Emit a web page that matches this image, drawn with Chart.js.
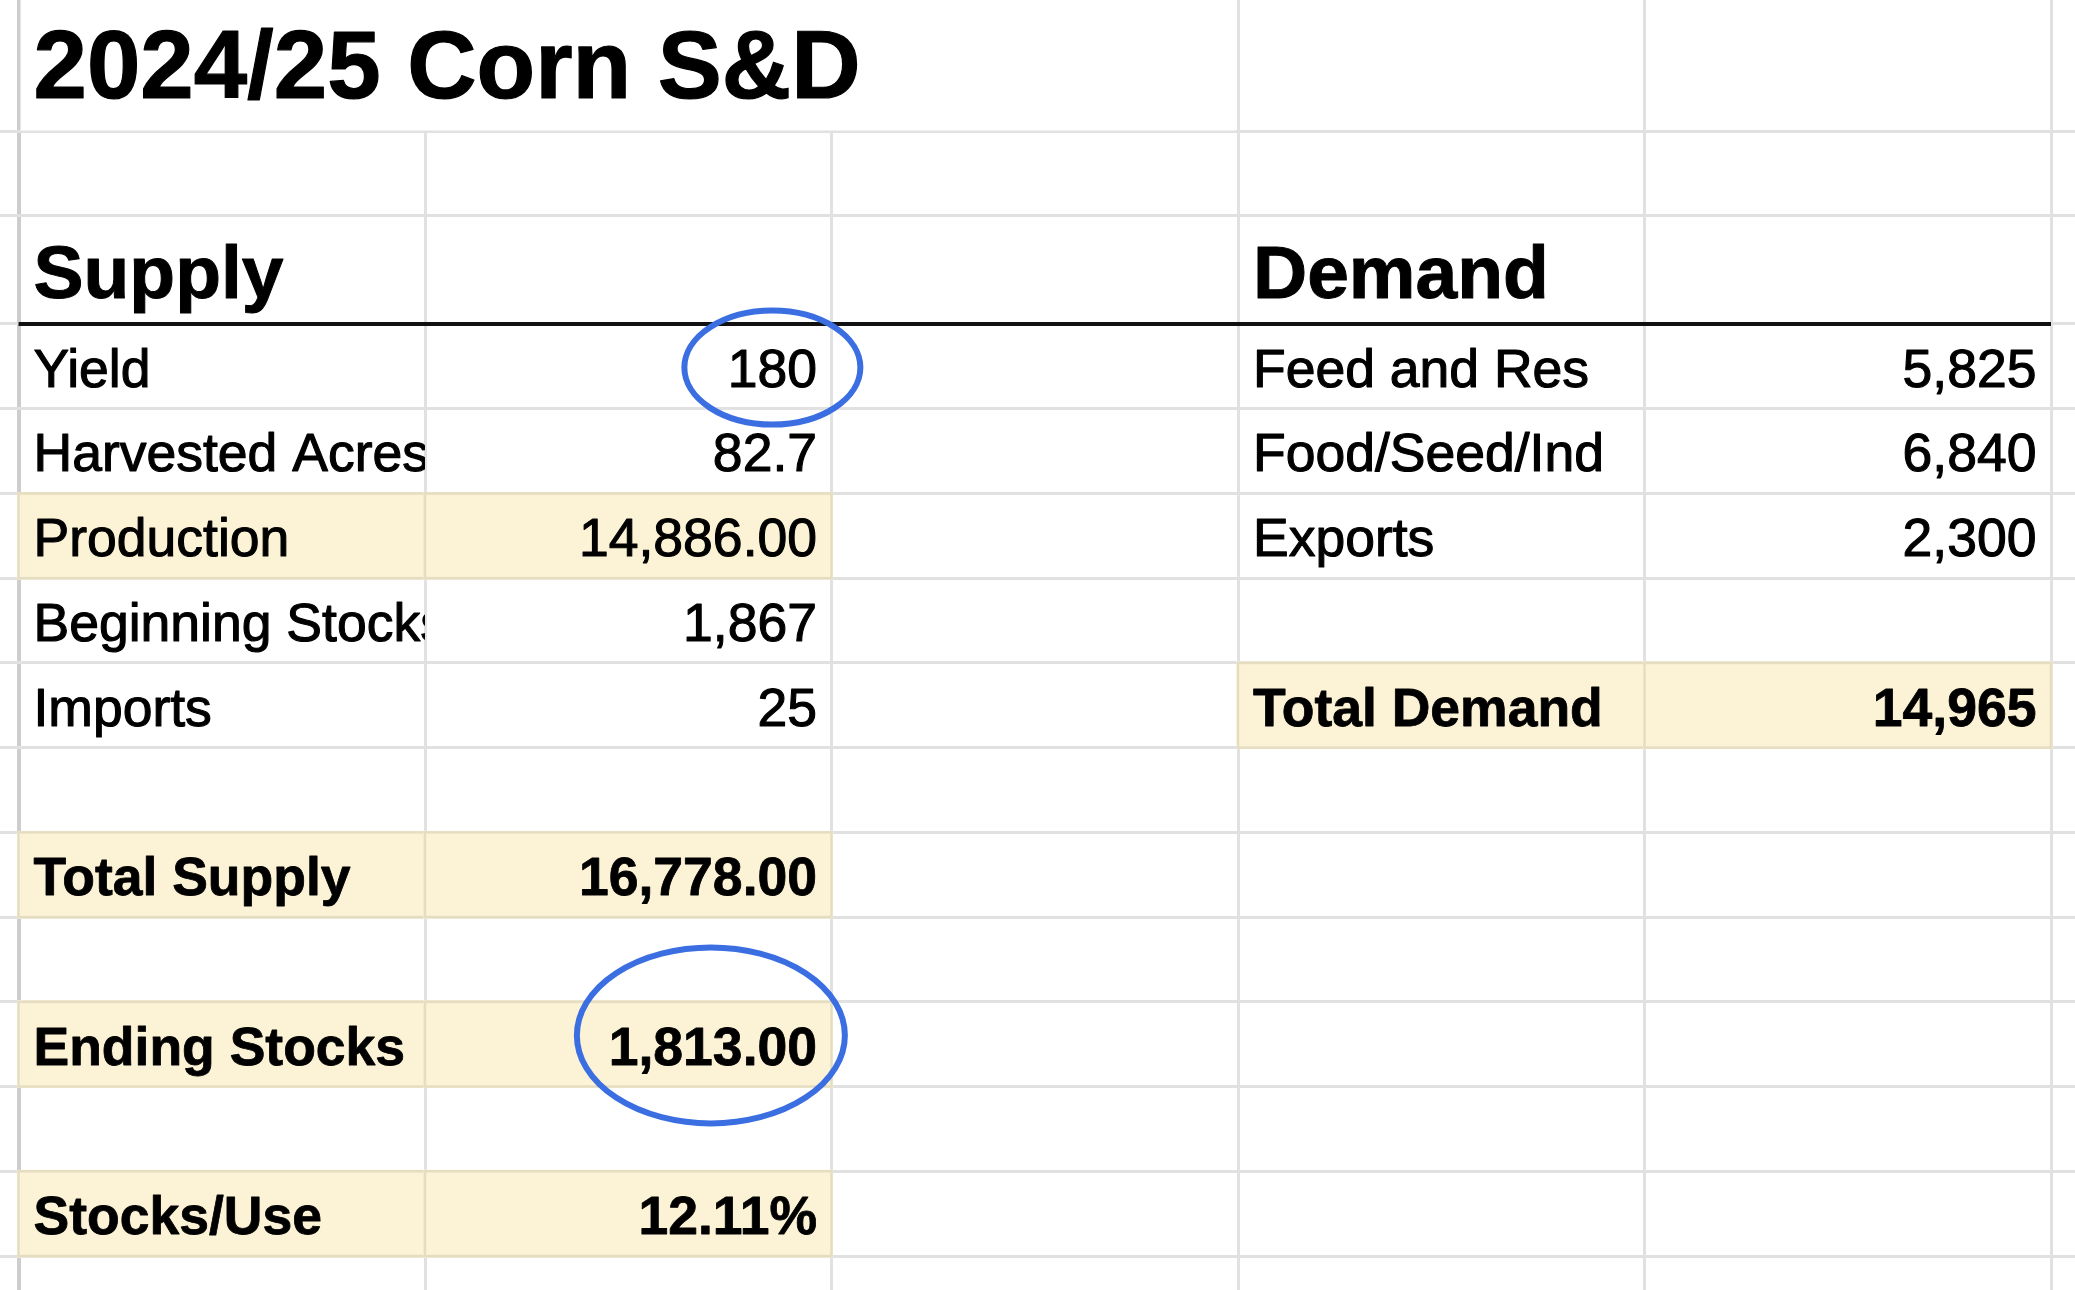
<!DOCTYPE html>
<html>
<head>
<meta charset="utf-8">
<script src="https://cdn.jsdelivr.net/npm/chart.js@4.4.1/dist/chart.umd.min.js"></script>
<style>
html,body{margin:0;padding:0;background:#fff;overflow:hidden}
#wrap{width:2075px;height:1290px;position:relative}
</style>
</head>
<body>
<div id="wrap"><canvas id="c"></canvas></div>
<script>
// ---------- DATA ----------
const titleText = '2024/25 Corn S&D';
const sectionHeaders = ['Supply', 'Demand'];

const supplyLabels  = ['Yield', 'Harvested Acres', 'Production', 'Beginning Stocks', 'Imports', '', 'Total Supply', '', 'Ending Stocks', '', 'Stocks/Use'];
const supplyValues  = [180, 82.7, 14886, 1867, 25, null, 16778, null, 1813, null, 0.1211];
const supplyFormats = ['n0', 'n1', 'n2', 'n0', 'n0', null, 'n2', null, 'n2', null, 'p2'];

const demandLabels  = ['Feed and Res', 'Food/Seed/Ind', 'Exports', '', 'Total Demand'];
const demandValues  = [5825, 6840, 2300, null, 14965];
const demandFormats = ['n0', 'n0', 'n0', null, 'n0'];

const highlightedRows = ['Production', 'Total Supply', 'Ending Stocks', 'Stocks/Use', 'Total Demand'];
const boldRows        = ['Total Supply', 'Ending Stocks', 'Stocks/Use', 'Total Demand'];
const circledRows     = ['Yield', 'Ending Stocks'];

// ---------- LAYOUT (sheet geometry, styles) ----------
const colWidths  = [18.5, 406.5, 406.5, 406.5, 406.5, 406.5, 24];
const rowHeights = [132, 84, 108].concat(Array(11).fill(84.73)).concat([34]);
const colEdges = colWidths.reduce((a, w) => (a.push(a[a.length - 1] + w), a), [0]);
const rowEdges = rowHeights.reduce((a, h) => (a.push(a[a.length - 1] + h), a), [0]);
const SHEET_W = colEdges[colEdges.length - 1];
const SHEET_H = rowEdges[rowEdges.length - 1];

const FONT = '"Liberation Sans", Arial, Helvetica, sans-serif';
const styles = {
  title:  { font: 'bold 96px ' + FONT, base: 34, stroke: 1.2 },
  header: { font: 'bold 75px ' + FONT, base: 26, stroke: 1.0 },
  body:   { font: '53.5px ' + FONT,    base: 22, stroke: 1.1 },
  bold:   { font: 'bold 53.5px ' + FONT, base: 22, stroke: 0.8 }
};
const circleStyle = {
  'Yield':         { dx: 0,  dy: 0,   rx: 88,  ry: 57 },
  'Ending Stocks': { dx: -2, dy: -10, rx: 134, ry: 88 }
};
const GRID = '#e1e1e1', GUTTER = '#cdcdcd', HILITE = 'rgb(252,242,213)', HILITE_LINE = 'rgb(229,221,194)';
const INK = '#000';

function fmt(v, f) {
  if (v == null) return '';
  const d = +f.slice(1);
  if (f[0] === 'p') return (v * 100).toFixed(d) + '%';
  return v.toLocaleString('en-US', { minimumFractionDigits: d, maximumFractionDigits: d });
}

// ---------- CELLS built from data ----------
const cells = [];
cells.push({ r: 0, c: 0, text: titleText, kind: 'title', align: 'left', clip: false });
cells.push({ r: 2, c: 0, text: sectionHeaders[0], kind: 'header', align: 'left', clip: false });
cells.push({ r: 2, c: 3, text: sectionHeaders[1], kind: 'header', align: 'left', clip: false });
function addBlock(labels, values, formats, c0) {
  labels.forEach((lab, i) => {
    if (!lab) return;
    const kind = boldRows.includes(lab) ? 'bold' : 'body';
    const hl = highlightedRows.includes(lab);
    cells.push({ r: 3 + i, c: c0, text: lab, kind, align: 'left', clip: true, hl });
    cells.push({ r: 3 + i, c: c0 + 1, text: fmt(values[i], formats[i]), kind, align: 'right', clip: true, hl,
                 circle: circledRows.includes(lab) ? circleStyle[lab] : null });
  });
}
addBlock(supplyLabels, supplyValues, supplyFormats, 0);
addBlock(demandLabels, demandValues, demandFormats, 3);

const points = cells.map(cell => ({
  x: (colEdges[cell.c + 1] + colEdges[cell.c + 2]) / 2,
  y: (rowEdges[cell.r] + rowEdges[cell.r + 1]) / 2,
  cell
}));

function cellRect(xs, ys, cell) {
  return {
    x0: xs.getPixelForValue(colEdges[cell.c + 1]),
    x1: xs.getPixelForValue(colEdges[cell.c + 2]),
    y0: ys.getPixelForValue(rowEdges[cell.r]),
    y1: ys.getPixelForValue(rowEdges[cell.r + 1])
  };
}

const sheetPlugin = {
  id: 'sheet',
  beforeDatasetsDraw(chart) {
    const { ctx, scales: { x, y } } = chart;
    ctx.save();
    // merged title cell (columns A..C)
    const mx0 = x.getPixelForValue(colEdges[1]) + 2, mx1 = x.getPixelForValue(colEdges[4]) - 2;
    ctx.fillStyle = '#fff';
    ctx.fillRect(mx0, 0, mx1 - mx0, y.getPixelForValue(rowEdges[1]) - 1.5);
    // highlighted cells
    chart.getDatasetMeta(0).data.forEach((el, i) => {
      const cell = points[i].cell;
      if (!cell.hl) return;
      const r = cellRect(x, y, cell);
      ctx.fillStyle = HILITE;
      ctx.fillRect(r.x0 - 1.5, r.y0 - 1.5, r.x1 - r.x0 + 3, r.y1 - r.y0 + 3);
      ctx.strokeStyle = HILITE_LINE;
      ctx.lineWidth = 2.5;
      ctx.strokeRect(r.x0, r.y0, r.x1 - r.x0, r.y1 - r.y0);
    });
    // heavy rule under section headers
    ctx.strokeStyle = '#111';
    ctx.lineWidth = 4;
    ctx.beginPath();
    const ry = y.getPixelForValue(rowEdges[3]);
    ctx.moveTo(x.getPixelForValue(colEdges[1]), ry);
    ctx.lineTo(x.getPixelForValue(colEdges[6]), ry);
    ctx.stroke();
    ctx.restore();
  },
  afterDatasetsDraw(chart) {
    const { ctx, scales: { x, y } } = chart;
    const meta = chart.getDatasetMeta(0);
    meta.data.forEach((el, i) => {
      const cell = points[i].cell;
      const st = styles[cell.kind];
      const r = cellRect(x, y, cell);
      ctx.save();
      ctx.font = st.font;
      ctx.fillStyle = INK;
      ctx.strokeStyle = INK;
      ctx.lineWidth = st.stroke;
      ctx.lineJoin = 'round';
      ctx.textBaseline = 'alphabetic';
      if (cell.clip) {
        ctx.beginPath();
        ctx.rect(r.x0, r.y0, r.x1 - r.x0, r.y1 - r.y0);
        ctx.clip();
      }
      const by = r.y1 - st.base;
      let tx;
      if (cell.align === 'left') { ctx.textAlign = 'left'; tx = r.x0 + 15; }
      else { ctx.textAlign = 'right'; tx = r.x1 - 14.5; }
      ctx.fillText(cell.text, tx, by);
      ctx.strokeText(cell.text, tx, by);
      ctx.restore();
      if (cell.circle) {
        ctx.save();
        ctx.font = st.font;
        const w = ctx.measureText(cell.text).width;
        const size = parseFloat(st.font.match(/([\d.]+)px/)[1]);
        const cx = tx - w / 2 + cell.circle.dx;
        const cy = by - size * 0.716 / 2 + cell.circle.dy;
        ctx.strokeStyle = '#3b6fe1';
        ctx.lineWidth = 6;
        ctx.beginPath();
        ctx.ellipse(cx, cy, cell.circle.rx, cell.circle.ry, 0, 0, Math.PI * 2);
        ctx.stroke();
        ctx.restore();
      }
    });
  }
};

new Chart(document.getElementById('c'), {
  type: 'scatter',
  data: { datasets: [{ data: points, pointRadius: 0, pointHoverRadius: 0 }] },
  options: {
    responsive: true,
    maintainAspectRatio: false,
    devicePixelRatio: 1,
    animation: false,
    events: [],
    layout: { padding: 0 },
    plugins: { legend: { display: false }, tooltip: { enabled: false } },
    scales: {
      x: {
        type: 'linear', min: 0, max: SHEET_W,
        afterBuildTicks: s => { s.ticks = colEdges.slice(1, -1).map(v => ({ value: v })); },
        afterFit: s => { s.height = 0; },
        ticks: { display: false },
        border: { display: false },
        grid: {
          drawTicks: false,
          color: c => (c.tick && c.tick.value === colEdges[1]) ? GUTTER : GRID,
          lineWidth: c => (c.tick && c.tick.value === colEdges[1]) ? 4 : 3
        }
      },
      y: {
        type: 'linear', min: 0, max: SHEET_H, reverse: true,
        afterBuildTicks: s => { s.ticks = rowEdges.slice(1, -1).map(v => ({ value: v })); },
        afterFit: s => { s.width = 0; },
        ticks: { display: false },
        border: { display: false },
        grid: { drawTicks: false, color: GRID, lineWidth: 3 }
      }
    }
  },
  plugins: [sheetPlugin]
});
</script>
</body>
</html>
